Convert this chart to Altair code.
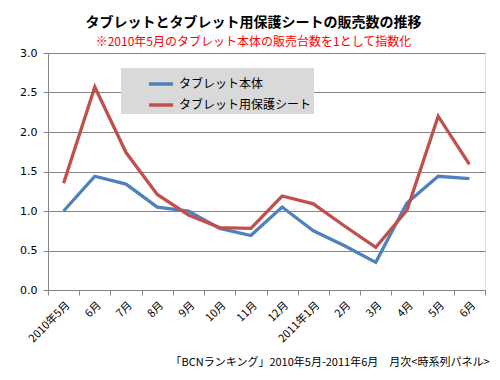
import altair as alt
import pandas as pd

months = ["2010年5月", "6月", "7月", "8月", "9月", "10月", "11月", "12月",
          "2011年1月", "2月", "3月", "4月", "5月", "6月 "]
tablet = [1.00, 1.44, 1.34, 1.05, 1.00, 0.78, 0.69, 1.05, 0.75, 0.56, 0.35, 1.10, 1.44, 1.41]
sheet = [1.35, 2.57, 1.74, 1.21, 0.95, 0.79, 0.78, 1.19, 1.09, 0.81, 0.54, 1.01, 2.20, 1.59]
series = ["タブレット本体", "タブレット用保護シート"]
colors = ["#4F81BD", "#C0504D"]

rows = []
for i, m in enumerate(months):
    rows.append({"month": m, "order": i, "series": series[0], "value": tablet[i]})
    rows.append({"month": m, "order": i, "series": series[1], "value": sheet[i]})
df = pd.DataFrame(rows)

FONT = "Noto Sans CJK JP"

chart = alt.Chart(df).mark_line(strokeWidth=3.3).encode(
    x=alt.X("month:N", sort=months, bandPosition=0.5,
            scale=alt.Scale(type="band", paddingInner=0, paddingOuter=0),
            axis=alt.Axis(title="「BCNランキング」2010年5月-2011年6月　月次<時系列パネル>",
                          titleAnchor="end", titleAlign="right", titleX=441, titleY=66,
                          titleBaseline="top", titleFontWeight="normal", titleFontSize=11,
                          titleFont=FONT, titleColor="black",
                          labelAngle=-45, labelFont=FONT, labelFontSize=11, labelColor="black",
                          labelPadding=4,
                          tickBand="extent", tickSize=5, tickColor="#868686",
                          domainColor="#868686", grid=False)),
    y=alt.Y("value:Q", scale=alt.Scale(domain=[0, 3]),
            axis=alt.Axis(title=None, values=[0, 0.5, 1, 1.5, 2, 2.5, 3], format=".1f",
                          labelFont="DejaVu Sans", labelFontSize=11, labelColor="black",
                          tickSize=5, tickColor="#868686", domainColor="#868686",
                          gridColor="#868686", gridOpacity=1, labelPadding=6)),
    color=alt.Color("series:N", sort=series,
                    scale=alt.Scale(domain=series, range=colors),
                    legend=alt.Legend(title=None, orient="none", legendX=73, legendY=15,
                                      fillColor="#D9D9D9", padding=2,
                                      symbolType="stroke", symbolSize=576,
                                      symbolStrokeWidth=3.5, symbolOffset=24,
                                      labelFont=FONT, labelFontSize=12, labelColor="black",
                                      labelExpr="datum.label + '　　'", labelLimit=300,
                                      rowPadding=-2)),
    order="order:Q",
).properties(
    width=437, height=237,
    padding={"left": 40, "top": 45, "right": 7, "bottom": 82},
    autosize=alt.AutoSizeParams(type="none"),
    title=alt.TitleParams(
        "タブレットとタブレット用保護シートの販売数の推移",
        subtitle="※2010年5月のタブレット本体の販売台数を1として指数化",
        font=FONT, fontSize=14, fontWeight="bold", color="black",
        subtitleFont=FONT, subtitleFontSize=12, subtitleColor="#FF0000",
        anchor="middle", dx=-13, offset=-1, subtitlePadding=7,
    ),
).configure_view(stroke=None).configure(background="white")

chart.save("out.html", embed_options={"renderer": "svg", "actions": False})
